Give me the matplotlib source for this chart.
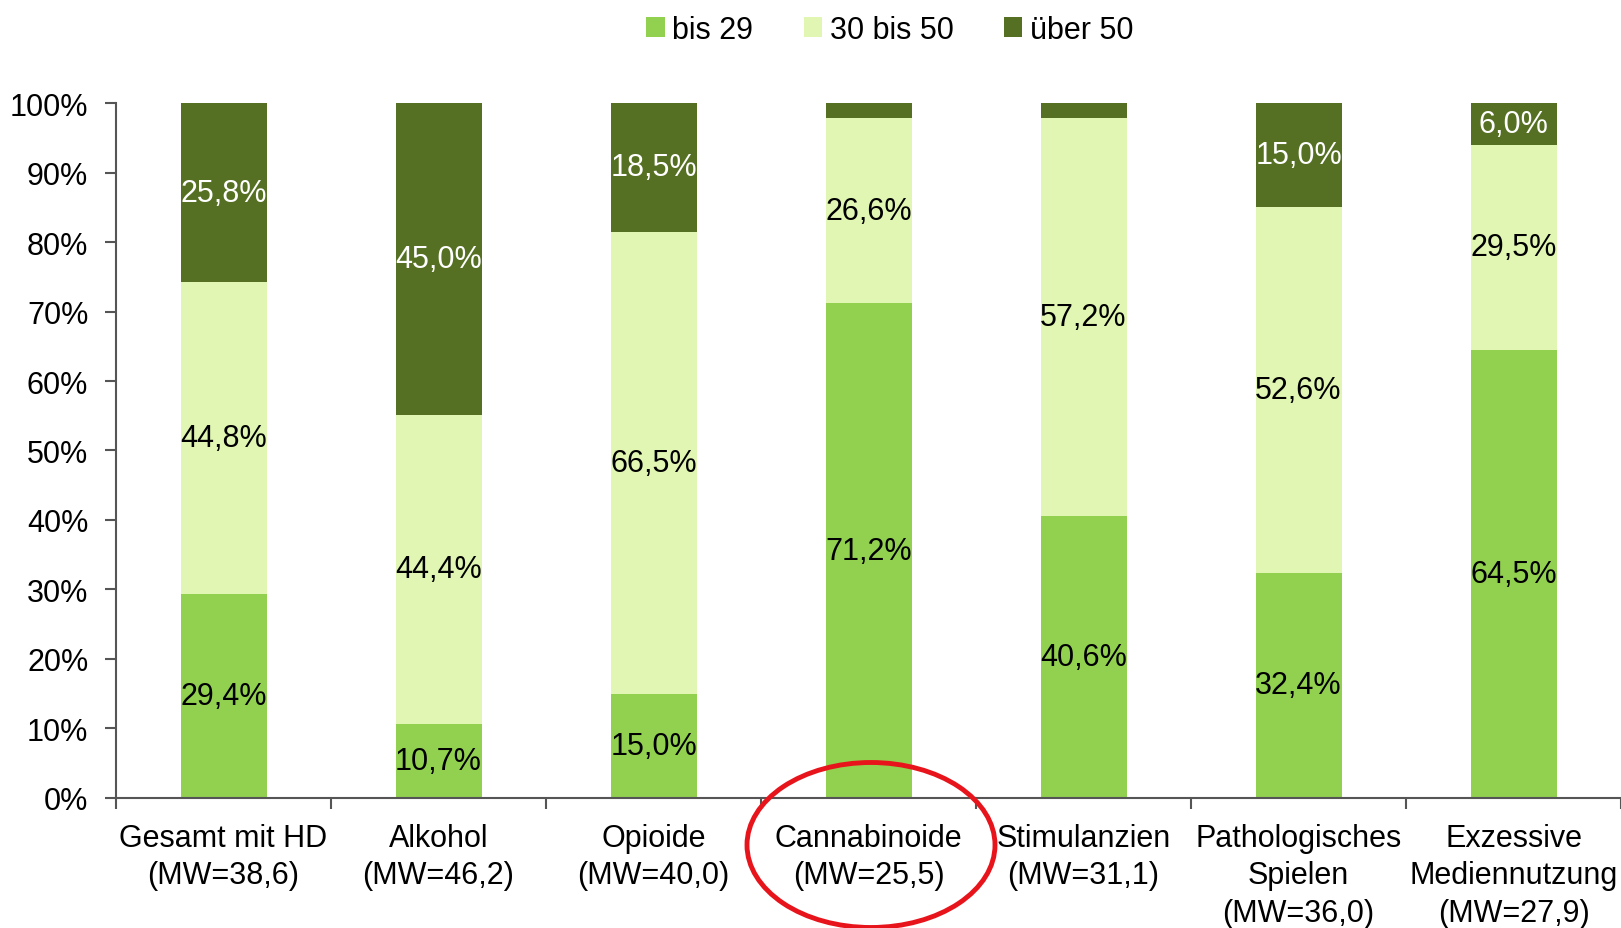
import matplotlib
matplotlib.use('Agg')
import matplotlib.pyplot as plt
from matplotlib.patches import Patch, Ellipse
import numpy as np

plt.rcParams['font.family'] = ['Liberation Sans', 'DejaVu Sans']

categories = [
    "Gesamt mit HD\n(MW=38,6)",
    "Alkohol\n(MW=46,2)",
    "Opioide\n(MW=40,0)",
    "Cannabinoide\n(MW=25,5)",
    "Stimulanzien\n(MW=31,1)",
    "Pathologisches\nSpielen\n(MW=36,0)",
    "Exzessive\nMediennutzung\n(MW=27,9)",
]
bis_29 = [29.4, 10.7, 15.0, 71.2, 40.6, 32.4, 64.5]
bis_50 = [44.8, 44.4, 66.5, 26.6, 57.2, 52.6, 29.5]
ueber_50 = [25.8, 45.0, 18.5, 2.2, 2.2, 15.0, 6.0]
# which labels of "über 50" are shown (the tiny ones have none)
show_ueber = [True, True, True, False, False, True, True]

series_names = ["bis 29", "30 bis 50", "über 50"]
colors = ["#92D050", "#E0F6B2", "#557022"]
text_colors = ["black", "black", "white"]
FS = 22

fig = plt.figure(figsize=(16.21, 9.29), dpi=100)
ax = fig.add_axes([0.0716, 0.140, 0.9284, 0.748])

x = np.arange(len(categories))
bottom = np.zeros(len(categories))
for vals, col, tcol, k in zip([bis_29, bis_50, ueber_50], colors, text_colors, range(3)):
    vals = np.array(vals)
    ax.bar(x, vals, width=0.4, bottom=bottom, color=col, edgecolor='none')
    for i, v in enumerate(vals):
        if k == 2 and not show_ueber[i]:
            continue
        ax.text(x[i], bottom[i] + v / 2, f"{v:.1f}%".replace('.', ','),
                ha='center', va='center', fontsize=FS, color=tcol)
    bottom += vals

ax.set_xlim(-0.5, len(categories) - 0.5)
ax.set_ylim(0, 100)
ax.set_yticks(np.arange(0, 101, 10))
ax.set_yticklabels([f"{v}%" for v in range(0, 101, 10)], fontsize=FS)

ax.set_xticks(x)
ax.set_xticklabels(categories, fontsize=FS, linespacing=1.32)
ax.set_xticks(np.arange(-0.5, len(categories)), minor=True)
ax.tick_params(axis='x', which='major', length=0, pad=18)
ax.tick_params(axis='x', which='minor', length=8, direction='out', color='#555555', width=1.5)
ax.tick_params(axis='y', length=8, direction='out', color='#555555', width=1.5, pad=12)

for side in ['top', 'right']:
    ax.spines[side].set_visible(False)
for side in ['left', 'bottom']:
    ax.spines[side].set_color('#555555')
    ax.spines[side].set_linewidth(1.5)

handles = [Patch(facecolor=c, edgecolor='none', label=n) for c, n in zip(colors, series_names)]
fig.legend(handles=handles, loc='center', bbox_to_anchor=(0.549, 0.967), ncol=3,
           frameon=False, fontsize=FS, handlelength=0.6, handleheight=0.6,
           handletextpad=0.25, columnspacing=1.65)

# red circle around the Cannabinoide label
ell = Ellipse((871 / 1621, 1 - 846 / 929), 248 / 1621, 165 / 929,
              transform=fig.transFigure, fill=False, edgecolor='#E8141B', linewidth=3.5)
fig.patches.append(ell)

fig.savefig("out.png", dpi=100)
